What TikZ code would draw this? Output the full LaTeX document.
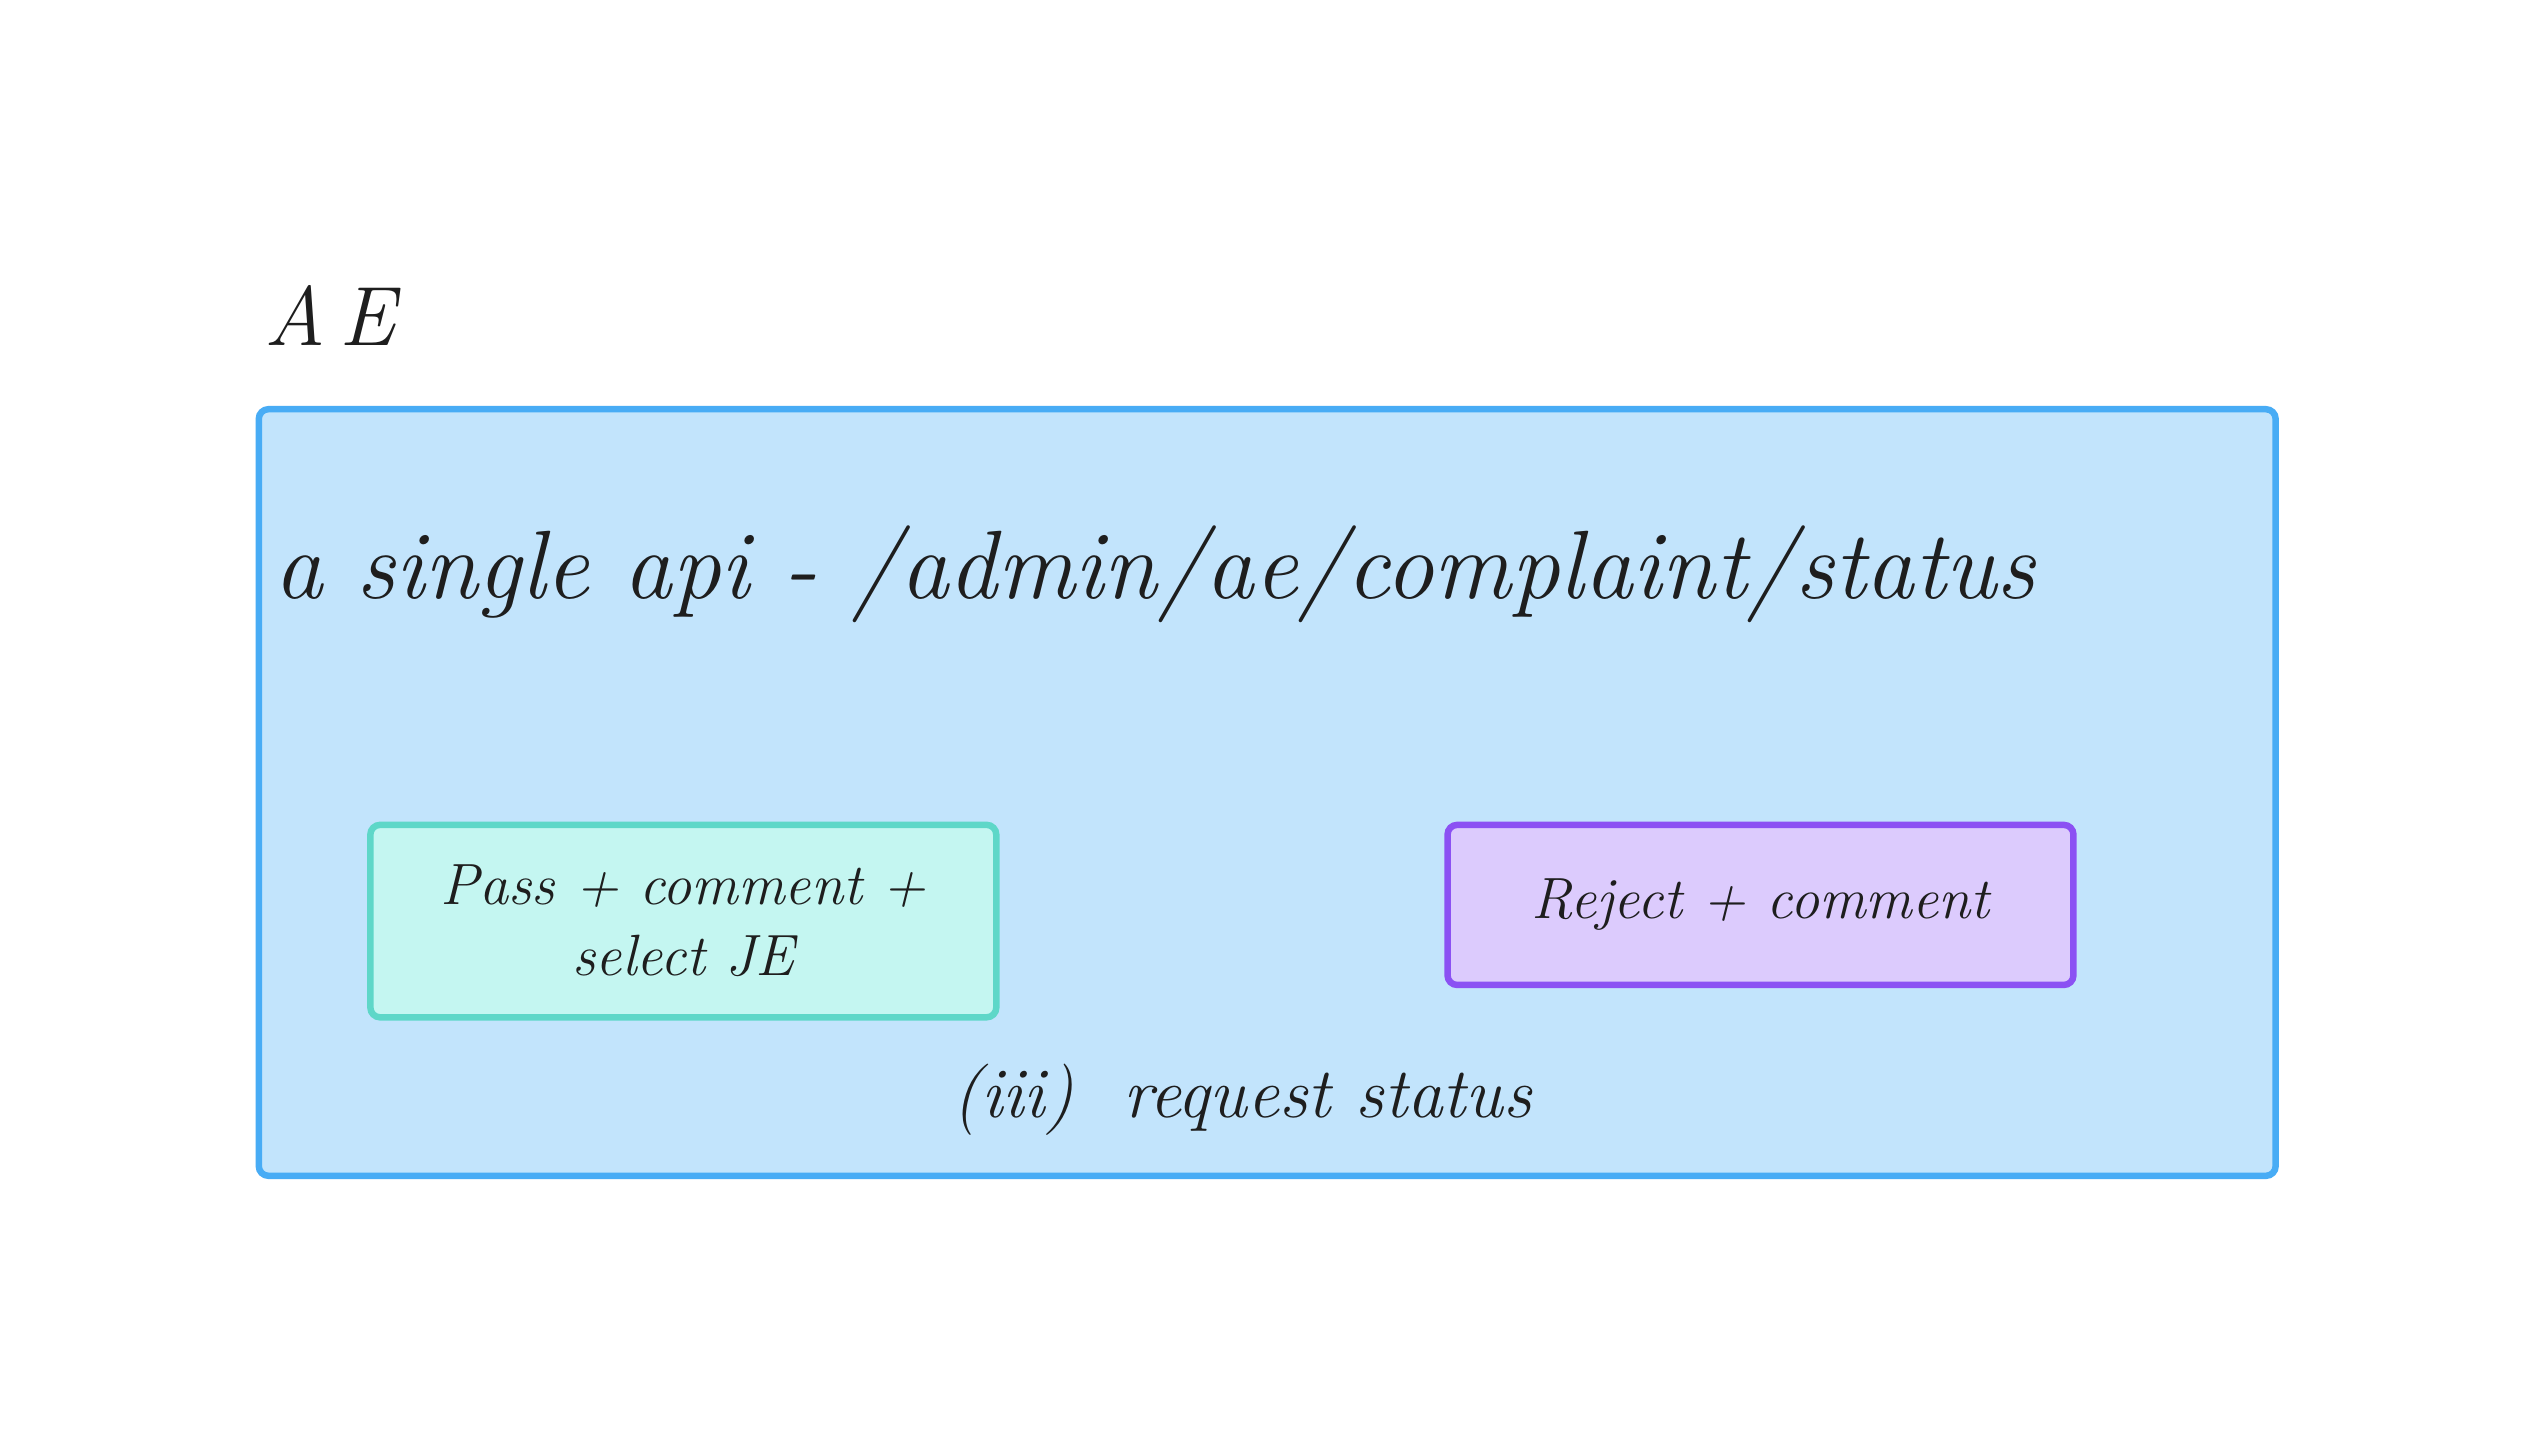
\documentclass[tikz,border=0pt]{standalone}
\definecolor{bigfill}{HTML}{C2E4FC}
\definecolor{bigline}{HTML}{48ACF5}
\definecolor{tfill}{HTML}{C4F6F1}
\definecolor{tline}{HTML}{5ED7C8}
\definecolor{pfill}{HTML}{DCCBFD}
\definecolor{pline}{HTML}{8B51F3}
\definecolor{ink}{HTML}{1E1E1E}
\begin{document}
\begin{tikzpicture}[x=1pt,y=-1pt,
  box/.style={rounded corners=6pt,line width=4pt},
  txt/.style={text=ink,font=\itshape}]
\useasboundingbox[fill=white] (0,0) rectangle (1568,889);
\node[txt,font=\fontsize{52}{58}\selectfont\itshape,anchor=west] (ae) at (160,195) {A\,E};
\draw[box,draw=bigline,fill=bigfill] (160,253) rectangle (1407,727);
\node[txt,font=\fontsize{60}{66}\selectfont\itshape,anchor=west] (api) at (166,355) {a single api - /admin/ae/complaint/status};
\node[box,draw=tline,fill=tfill,minimum width=387pt,minimum height=119pt,align=center,
  font=\fontsize{36}{44}\selectfont\itshape,text=ink] (pass) at (422.5,569.5) {Pass + comment +\\select JE};
\node[box,draw=pline,fill=pfill,minimum width=387pt,minimum height=99pt,
  font=\fontsize{36}{44}\selectfont\itshape,text=ink] (rej) at (1088.5,559.5) {Reject + comment};
\node[txt,font=\fontsize{44}{50}\selectfont\itshape] (req) at (768,680) {(iii)\ \ request status};
\end{tikzpicture}
\end{document}
